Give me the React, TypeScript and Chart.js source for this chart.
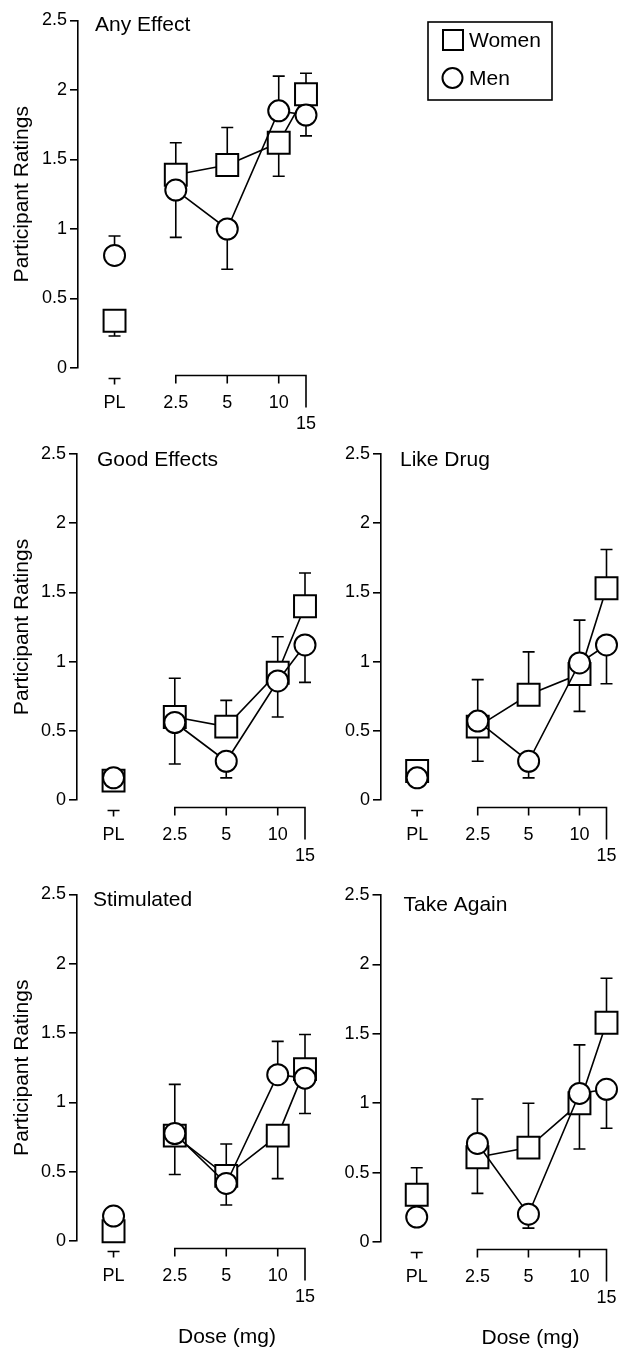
import React, { useEffect, useRef } from 'react';
import { Chart, registerables } from 'chart.js';

Chart.register(...registerables);

const FONT = '"Liberation Sans", Arial, Helvetica, sans-serif';

// ---------- data ----------
const panelTitles = ['Any Effect', 'Good Effects', 'Like Drug', 'Stimulated', 'Take Again'];
const doseLabels = ['PL', '2.5', '5', '10', '15'];
// positions of the dose categories on the (non-linear) dose axis, in axis units
const doseSlots = [-1.19, 0, 1, 2, 2.53];
const seriesNames = ['Women', 'Men'];
const yAxisTitle = 'Participant Ratings';
const xAxisTitle = 'Dose (mg)';
const yMin = 0;
const yMax = 2.5;
const yStep = 0.5;

const anyEffectWomen = [0.34, 1.39, 1.46, 1.62, 1.97];
const anyEffectWomenErr = [0.23, 1.62, 1.73, 1.38, 2.12];
const anyEffectMen = [0.81, 1.28, 1.0, 1.85, 1.82];
const anyEffectMenErr = [0.95, 0.94, 0.71, 2.1, 1.67];

const goodWomen = [0.14, 0.6, 0.53, 0.92, 1.4];
const goodWomenErr = [null, 0.88, 0.72, 1.18, 1.64];
const goodMen = [0.16, 0.56, 0.28, 0.86, 1.12];
const goodMenErr = [null, 0.26, 0.16, 0.6, 0.85];

const likeWomen = [0.21, 0.53, 0.76, 0.91, 1.53];
const likeWomenErr = [null, 0.28, 1.07, 0.64, 1.81];
const likeMen = [0.16, 0.57, 0.28, 0.99, 1.12];
const likeMenErr = [null, 0.87, 0.16, 1.3, 0.84];

const stimWomen = [0.07, 0.76, 0.47, 0.76, 1.24];
const stimWomenErr = [null, 1.13, 0.7, 0.45, 1.49];
const stimMen = [0.18, 0.775, 0.415, 1.2, 1.175];
const stimMenErr = [null, 0.48, 0.26, 1.44, 0.92];

const againWomen = [0.34, 0.61, 0.68, 1.0, 1.58];
const againWomenErr = [0.535, 0.35, 1.0, 0.67, 1.9];
const againMen = [0.18, 0.71, 0.2, 1.07, 1.1];
const againMenErr = [null, 1.03, 0.1, 1.42, 0.82];

const panelWomen = [anyEffectWomen, goodWomen, likeWomen, stimWomen, againWomen];
const panelWomenErr = [anyEffectWomenErr, goodWomenErr, likeWomenErr, stimWomenErr, againWomenErr];
const panelMen = [anyEffectMen, goodMen, likeMen, stimMen, againMen];
const panelMenErr = [anyEffectMenErr, goodMenErr, likeMenErr, stimMenErr, againMenErr];

// ---------- layout (pixels) ----------
const PLOT_W = 228;
const layouts = [
  { left: 0, top: 0, w: 624, h: 430, axisW: 78, padTop: 20.5, padBottom: 62, yTitle: true, xTitle: false, legend: true, tdx: 17, tdy: 5 },
  { left: 0, top: 434, w: 330, h: 430, axisW: 77, padTop: 20, padBottom: 64, yTitle: true, xTitle: false, legend: false, tdx: 20, tdy: 6 },
  { left: 320, top: 434, w: 304, h: 430, axisW: 61, padTop: 20, padBottom: 64, yTitle: false, xTitle: false, legend: false, tdx: 19, tdy: 6 },
  { left: 0, top: 874, w: 330, h: 475, axisW: 77, padTop: 20.5, padBottom: 108, yTitle: true, xTitle: true, legend: false, tdx: 16, tdy: 6 },
  { left: 320, top: 874, w: 304, h: 475, axisW: 60.5, padTop: 21, padBottom: 107, yTitle: false, xTitle: true, legend: false, tdx: 23, tdy: 10 },
];

const errorBarPlugin = {
  id: 'errorBars',
  beforeDatasetsDraw(chart: any) {
    const { ctx, scales } = chart;
    const y = scales.y;
    ctx.save();
    ctx.strokeStyle = '#000';
    ctx.lineWidth = 1.6;
    chart.data.datasets.forEach((ds: any, di: number) => {
      const meta = chart.getDatasetMeta(di);
      (ds.errEnds || []).forEach((e: number | null, i: number) => {
        if (e === null || e === undefined) return;
        const p = meta.data[i];
        const ye = y.getPixelForValue(e);
        ctx.beginPath();
        ctx.moveTo(p.x, p.y);
        ctx.lineTo(p.x, ye);
        ctx.moveTo(p.x - 6, ye);
        ctx.lineTo(p.x + 6, ye);
        ctx.stroke();
      });
    });
    ctx.restore();
  },
};

const decorPlugin = {
  id: 'decor',
  afterDraw(chart: any) {
    const { ctx, chartArea, scales } = chart;
    const x = scales.x;
    const o = chart.options.plugins.decor;
    const base = chartArea.bottom + 7.5;
    const xs = doseSlots.map((v) => x.getPixelForValue(v));
    ctx.save();
    ctx.strokeStyle = '#000';
    ctx.fillStyle = '#000';
    ctx.lineWidth = 1.6;
    ctx.lineJoin = 'miter';
    // dose axis segment
    ctx.beginPath();
    ctx.moveTo(xs[1], base + 8);
    ctx.lineTo(xs[1], base);
    ctx.lineTo(xs[4], base);
    ctx.lineTo(xs[4], base + 32);
    ctx.moveTo(xs[2], base);
    ctx.lineTo(xs[2], base + 8);
    ctx.moveTo(xs[3], base);
    ctx.lineTo(xs[3], base + 8);
    // placebo segment
    ctx.moveTo(xs[0] - 6, base + 3);
    ctx.lineTo(xs[0] + 6, base + 3);
    ctx.moveTo(xs[0], base + 3);
    ctx.lineTo(xs[0], base + 9);
    ctx.stroke();
    // dose labels
    ctx.font = `18px ${FONT}`;
    ctx.textAlign = 'center';
    ctx.textBaseline = 'middle';
    for (let i = 0; i < 4; i++) ctx.fillText(doseLabels[i], xs[i], base + 28);
    ctx.fillText(doseLabels[4], xs[4], base + 49);
    // panel title
    ctx.font = `21px ${FONT}`;
    ctx.textAlign = 'left';
    ctx.fillText(o.title, chartArea.left + o.tdx, chartArea.top + o.tdy);
    if (o.xTitle) {
      ctx.textAlign = 'center';
      ctx.fillText(xAxisTitle, chartArea.left + 150, chartArea.bottom + 96);
    }
    if (o.legend) {
      const bx = 428, by = 22, bw = 124, bh = 78;
      ctx.lineWidth = 1.6;
      ctx.strokeRect(bx, by, bw, bh);
      ctx.fillStyle = '#fff';
      ctx.lineWidth = 2;
      ctx.beginPath();
      ctx.rect(443, 30, 20, 20);
      ctx.fill();
      ctx.stroke();
      ctx.beginPath();
      ctx.arc(452.5, 78, 10, 0, Math.PI * 2);
      ctx.fill();
      ctx.stroke();
      ctx.fillStyle = '#000';
      ctx.textAlign = 'left';
      ctx.font = `21px ${FONT}`;
      ctx.fillText(seriesNames[0], 469, 41);
      ctx.fillText(seriesNames[1], 469, 79);
    }
    ctx.restore();
  },
};

function Panel({ idx }: { idx: number }) {
  const ref = useRef<HTMLCanvasElement>(null);
  const L = layouts[idx];
  useEffect(() => {
    const canvas = ref.current;
    if (!canvas) return;
    const toPts = (vals: number[]) => doseSlots.map((xv, i) => ({ x: xv, y: vals[i] }));
    const hideFirst = {
      borderColor: (c: any) => (c.p0DataIndex === 0 ? 'rgba(0,0,0,0)' : '#000'),
    };
    const padRight = L.w - L.axisW - PLOT_W;
    const chart = new Chart(canvas, {
      type: 'line',
      data: {
        datasets: [
          {
            label: seriesNames[1],
            data: toPts(panelMen[idx]),
            errEnds: panelMenErr[idx],
            borderColor: '#000',
            borderWidth: 1.6,
            pointStyle: 'circle',
            pointRadius: 10.5,
            pointBackgroundColor: '#fff',
            pointBorderColor: '#000',
            pointBorderWidth: 2,
            segment: hideFirst,
            clip: false,
            tension: 0,
          } as any,
          {
            label: seriesNames[0],
            data: toPts(panelWomen[idx]),
            errEnds: panelWomenErr[idx],
            borderColor: '#000',
            borderWidth: 1.6,
            pointStyle: 'rect',
            pointRadius: 15.5,
            pointBackgroundColor: '#fff',
            pointBorderColor: '#000',
            pointBorderWidth: 2,
            segment: hideFirst,
            clip: false,
            tension: 0,
          } as any,
        ],
      },
      options: {
        responsive: false,
        animation: false,
        events: [],
        layout: { padding: { left: 0, top: L.padTop, right: padRight, bottom: L.padBottom } },
        scales: {
          x: { type: 'linear', display: false, min: -1.9, max: 2.53 },
          y: {
            min: yMin,
            max: yMax,
            ticks: {
              stepSize: yStep,
              color: '#000',
              font: { family: FONT, size: 18 },
              padding: 3,
              callback: (v: any) => String(Number(v)),
            },
            grid: {
              drawOnChartArea: false,
              drawTicks: true,
              tickLength: 8,
              color: '#000',
              lineWidth: 1.6,
            },
            border: { display: true, color: '#000', width: 1.6 },
            title: {
              display: L.yTitle,
              text: yAxisTitle,
              color: '#000',
              font: { family: FONT, size: 21 },
              padding: { top: 10, bottom: 0 },
            },
            afterFit: (s: any) => {
              s.width = L.axisW;
            },
          },
        },
        plugins: {
          legend: { display: false },
          tooltip: { enabled: false },
          decor: { title: panelTitles[idx], tdx: L.tdx, tdy: L.tdy, xTitle: L.xTitle, legend: L.legend },
        } as any,
      },
      plugins: [errorBarPlugin, decorPlugin],
    });
    return () => chart.destroy();
  }, [idx]);
  return (
    <canvas
      ref={ref}
      width={L.w}
      height={L.h}
      style={{ position: 'absolute', left: L.left, top: L.top, width: L.w, height: L.h }}
    />
  );
}

export default function App() {
  return (
    <div style={{ position: 'absolute', left: 0, top: 0, width: 624, height: 1349, background: '#fff', overflow: 'hidden' }}>
      {panelTitles.map((_, i) => (
        <Panel key={i} idx={i} />
      ))}
    </div>
  );
}
